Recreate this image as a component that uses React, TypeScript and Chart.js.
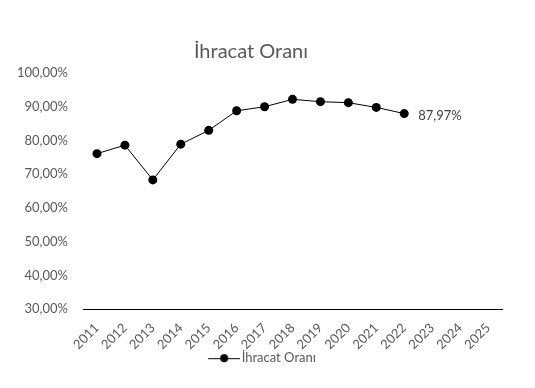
import React, { useEffect, useRef } from "react";
import { Chart, registerables } from "chart.js";

Chart.register(...registerables);

const years = ["2011","2012","2013","2014","2015","2016","2017","2018","2019","2020","2021","2022","2023","2024","2025"];
const exportRatio = [76.1, 78.6, 68.3, 78.9, 83.0, 88.8, 90.0, 92.2, 91.5, 91.2, 89.8, 87.97, null, null, null];
const seriesName = "İhracat Oranı";
const chartTitle = "İhracat Oranı";

const FONT = "Lato, 'Open Sans', sans-serif";

function fmt(v: number) {
  return v.toFixed(2).replace(".", ",") + "%";
}

function legendIcon() {
  const c = document.createElement("canvas");
  c.width = 42;
  c.height = 10;
  const ctx = c.getContext("2d")!;
  ctx.strokeStyle = "#000";
  ctx.lineWidth = 1;
  ctx.beginPath();
  ctx.moveTo(10, 5.5);
  ctx.lineTo(42, 5.5);
  ctx.stroke();
  ctx.fillStyle = "#000";
  ctx.beginPath();
  ctx.arc(26, 5, 4, 0, Math.PI * 2);
  ctx.fill();
  return c;
}

const lastLabelPlugin = {
  id: "lastLabel",
  afterLayout(chart: any) {
    const lg = chart.legend;
    if (lg) {
      lg.left += 8.5;
      lg.right += 8.5;
      const h = lg.bottom - lg.top;
      lg.top = chart.chartArea.bottom + 33;
      lg.bottom = lg.top + h;
    }
  },
  afterDatasetsDraw(chart: any) {
    const meta = chart.getDatasetMeta(0);
    const data = chart.data.datasets[0].data as (number | null)[];
    let idx = -1;
    for (let i = data.length - 1; i >= 0; i--) {
      if (data[i] != null) { idx = i; break; }
    }
    if (idx < 0) return;
    const pt = meta.data[idx];
    const ctx = chart.ctx;
    ctx.save();
    ctx.font = `13px ${FONT}`;
    ctx.fillStyle = "#404040";
    ctx.textAlign = "left";
    ctx.textBaseline = "middle";
    ctx.fillText(fmt(data[idx] as number), pt.x + 14, pt.y + 2);
    ctx.restore();
  },
};

export default function App() {
  const ref = useRef<HTMLCanvasElement | null>(null);
  useEffect(() => {
    if (!ref.current) return;
    const icon = legendIcon();
    const chart = new Chart(ref.current, {
      type: "line",
      data: {
        labels: years,
        datasets: [
          {
            label: seriesName,
            data: exportRatio,
            borderColor: "#000",
            backgroundColor: "#000",
            borderWidth: 1,
            pointRadius: 4.5,
            pointBackgroundColor: "#000",
            pointBorderColor: "#000",
            pointBorderWidth: 0,
            tension: 0,
            spanGaps: false,
          },
        ],
      },
      options: {
        responsive: false,
        animation: false,
        layout: { padding: { left: 0, right: 33, top: 0, bottom: -8 } },
        scales: {
          x: {
            offset: true,
            grid: { display: false, drawTicks: false },
            border: { display: true, color: "#000", width: 1 },
            ticks: {
              minRotation: 45,
              maxRotation: 45,
              color: "#595959",
              font: { family: FONT, size: 13 },
              padding: 11,
            },
          },
          y: {
            min: 30,
            max: 100,
            grid: { display: false, drawTicks: false },
            border: { display: false },
            afterFit: (s: any) => { s.width = 83; },
            ticks: {
              stepSize: 10,
              color: "#595959",
              font: { family: FONT, size: 13 },
              padding: 15,
              callback: (v: any) => fmt(Number(v)),
            },
          },
        },
        plugins: {
          title: {
            display: true,
            text: chartTitle,
            color: "#595959",
            font: { family: FONT, size: 20, weight: "normal" },
            padding: { top: 40, bottom: 9 },
          },
          legend: {
            position: "bottom",
            labels: {
              usePointStyle: true,
              pointStyleWidth: 32,
              padding: 9.5,
              color: "#595959",
              font: { family: FONT, size: 13 },
              generateLabels: () => [
                {
                  text: seriesName,
                  pointStyle: icon,
                  fillStyle: "#000",
                  strokeStyle: "#000",
                  lineWidth: 0,
                  hidden: false,
                  datasetIndex: 0,
                  fontColor: "#595959",
                },
              ],
            },
          },
          tooltip: { enabled: false },
        },
      },
      plugins: [lastLabelPlugin],
    });
    return () => chart.destroy();
  }, []);
  return (
    <div style={{ position: "fixed", left: 0, top: 0, width: 535, height: 388, background: "#fff" }}>
      <canvas ref={ref} width={535} height={388} style={{ display: "block" }} />
    </div>
  );
}
